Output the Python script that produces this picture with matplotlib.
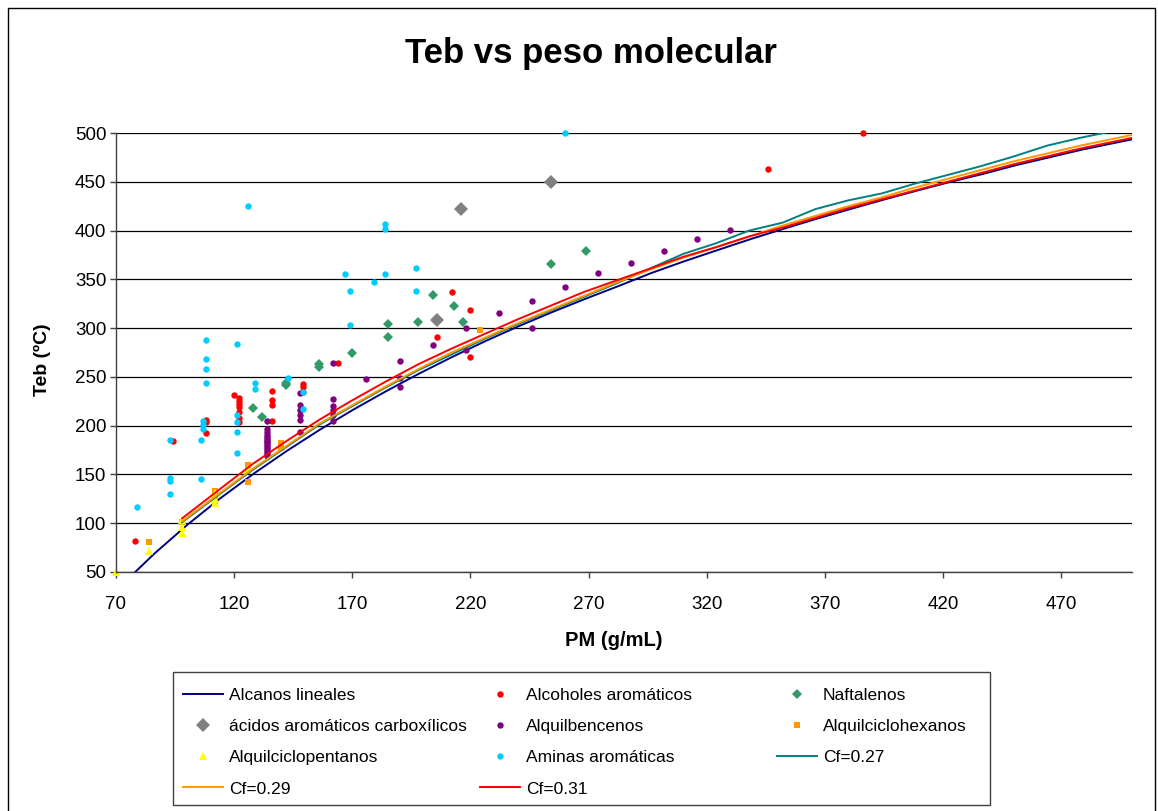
import matplotlib
matplotlib.use("Agg")
import matplotlib.pyplot as plt
from matplotlib.patches import Rectangle

plt.rcParams["font.family"] = ["Liberation Sans", "DejaVu Sans"]

W, H = 1158, 811

# n-alcanos (C5 .. C36)
ALCANOS_PM = [72.15, 86.18, 100.2, 114.23, 128.26, 142.28, 156.31, 170.34,
              184.37, 198.39, 212.42, 226.45, 240.47, 254.5, 268.53, 282.55,
              296.58, 310.61, 324.63, 338.66, 352.69, 366.71, 380.74, 394.77,
              408.8, 422.82, 436.85, 450.88, 464.9, 478.93, 492.96, 506.98]
ALCANOS_TEB = [36.1, 68.7, 98.4, 125.7, 150.8, 174.1, 195.9, 216.3,
               235.4, 253.5, 270.6, 286.8, 302.0, 316.3, 329.9, 343.0,
               356.5, 368.6, 380.0, 391.3, 401.9, 412.2, 422.0, 431.6,
               440.8, 449.7, 458.0, 467.0, 475.0, 483.0, 490.0, 497.0]

ALCOHOLES_PM = [78, 94, 108, 108, 108, 120, 122, 122, 122, 122, 122, 122, 122,
                136, 136, 136, 136, 149, 149, 149, 164, 206, 212, 220, 220,
                346, 386]
ALCOHOLES_TEB = [82, 184, 206, 204, 192, 231, 228, 225, 222, 219, 214, 208, 204,
                 236, 226, 221, 205, 243, 240, 235, 264, 291, 337, 319, 270,
                 463, 500]

NAFTALENOS_PM = [128, 132, 142, 142, 156, 156, 170, 185, 185, 198, 204, 213,
                 217, 254, 269]
NAFTALENOS_TEB = [218, 209, 244, 242, 263, 260, 274, 304, 291, 306, 334, 323,
                  306, 366, 379]

ACIDOS_PM = [206, 216, 254]
ACIDOS_TEB = [308, 422, 450]

BENCENOS_PM = [134] * 15 + [148] * 6 + [162] * 6 + [176, 190, 190, 190, 204,
               218, 218, 232, 246, 246, 260, 274, 288, 302, 316, 330]
BENCENOS_TEB = [169, 171, 173, 175, 177, 179, 181, 183, 184, 186, 188, 190,
                193, 197, 205,
                233, 221, 216, 211, 206, 194,
                264, 227, 220, 216, 211, 205,
                248, 266, 249, 240, 283, 300, 278, 315, 328, 300, 342, 356,
                367, 379, 391, 401]

CICLOHEXANOS_PM = [84, 98, 112, 112, 112, 126, 126, 140, 140, 224]
CICLOHEXANOS_TEB = [81, 101, 133, 127, 120, 160, 142, 182, 177, 298]

CICLOPENTANOS_PM = [70, 84, 98, 98, 98, 112, 112, 112, 126]
CICLOPENTANOS_TEB = [49.5, 72, 103, 96, 90, 131, 125, 121, 156]

AMINAS_PM = [79, 93, 93, 93, 93, 108, 108, 108, 108, 107, 107, 107, 106, 106,
             121, 121, 121, 121, 121, 126, 129, 129, 143, 149, 149, 167, 169,
             169, 179, 184, 184, 184, 197, 197, 260]
AMINAS_TEB = [117, 185, 146, 143, 130, 288, 268, 258, 244, 205, 201, 197, 185,
              145, 284, 211, 204, 194, 172, 425, 244, 238, 249, 235, 217, 355,
              338, 303, 347, 407, 402, 355, 362, 338, 500]

CF_PM = [98, 114, 128, 142, 156, 170, 184, 198, 212, 226, 240, 254, 268, 282,
         296, 310, 324, 338, 352, 366, 380, 394, 408, 422, 436, 450, 464, 478,
         492, 506]
CF027_TEB = [101, 130, 155, 178, 201, 220, 239, 257, 273, 289, 304, 318, 332,
             346, 361, 376, 387, 400, 408, 422, 431, 438, 448, 457, 466, 476,
             487, 495, 502, 510]
CF029_TEB = [102, 131, 156, 179, 202, 221, 240, 258, 275, 290, 305, 319, 333,
             347, 360, 372, 383, 394, 405, 415, 425, 434, 444, 453, 462, 471,
             479, 487, 494, 501]
CF031_TEB = [105, 135, 161, 184, 206, 226, 245, 263, 279, 294, 309, 323, 337,
             349, 361, 373, 383, 394, 403, 413, 423, 432, 441, 450, 459, 468,
             476, 484, 491, 498]


fig = plt.figure(figsize=(W / 100, H / 100), dpi=100)
ax = fig.add_axes([116 / W, 1 - 572 / H, (1132 - 116) / W, (572 - 133) / H])

h_alc, = ax.plot(ALCANOS_PM, ALCANOS_TEB, "-", color="#000080", lw=1.4,
                 label="Alcanos lineales")
h_oh, = ax.plot(ALCOHOLES_PM, ALCOHOLES_TEB, "o", color="#FF0000", ms=4.6,
                mew=0, label="Alcoholes aromáticos", clip_on=False)
h_naf, = ax.plot(NAFTALENOS_PM, NAFTALENOS_TEB, "D", color="#339966", ms=4.6,
                 mew=0, label="Naftalenos", clip_on=False)
h_ac, = ax.plot(ACIDOS_PM, ACIDOS_TEB, "D", color="#808080", ms=7, mew=0,
                label="ácidos aromáticos carboxílicos", clip_on=False)
h_ben, = ax.plot(BENCENOS_PM, BENCENOS_TEB, "o", color="#800080", ms=4.6,
                 mew=0, label="Alquilbencenos", clip_on=False)
h_hex, = ax.plot(CICLOHEXANOS_PM, CICLOHEXANOS_TEB, "s", color="#FF9900",
                 ms=5, mew=0, label="Alquilciclohexanos", clip_on=False)
h_pen, = ax.plot(CICLOPENTANOS_PM, CICLOPENTANOS_TEB, "^", color="#FFFF00",
                 ms=6, mew=0, label="Alquilciclopentanos", clip_on=False)
h_am, = ax.plot(AMINAS_PM, AMINAS_TEB, "o", color="#00CCFF", ms=4.6, mew=0,
                label="Aminas aromáticas", clip_on=False)
h_27, = ax.plot(CF_PM, CF027_TEB, "-", color="#008080", lw=1.4,
                label="Cf=0.27")
h_29, = ax.plot(CF_PM, CF029_TEB, "-", color="#FF9900", lw=1.4,
                label="Cf=0.29")
h_31, = ax.plot(CF_PM, CF031_TEB, "-", color="#FF0000", lw=1.4,
                label="Cf=0.31")

ax.set_xlim(70, 500)
ax.set_ylim(50, 500)
ax.set_xticks(range(70, 471, 50))
ax.set_yticks(range(50, 501, 50))
ax.tick_params(direction="out", length=4, width=1, color="#404040",
               labelsize=13.5)
ax.tick_params(axis="x", pad=13)
ax.tick_params(axis="y", pad=3)
ax.yaxis.grid(True, color="black", lw=0.9)
ax.set_axisbelow(True)
for side in ("top", "right"):
    ax.spines[side].set_visible(False)
for side in ("left", "bottom"):
    ax.spines[side].set_color("#404040")
    ax.spines[side].set_linewidth(1)

fig.text(591 / W, 1 - 53 / H, "Teb vs peso molecular", ha="center",
         va="center", fontsize=25, fontweight="bold")
fig.text(42 / W, 1 - 360 / H, "Teb (ºC)", ha="center", va="center",
         rotation=90, fontsize=14, fontweight="bold")
fig.text(614 / W, 1 - 640 / H, "PM (g/mL)", ha="center", va="center",
         fontsize=14.5, fontweight="bold")

# legend box with three equal columns, like the spreadsheet one
fig.add_artist(Rectangle((173 / W, 1 - 805 / H), (990 - 173) / W,
                         (805 - 672) / H, transform=fig.transFigure,
                         fill=False, edgecolor="#404040", lw=1))
columns = [([h_alc, h_ac, h_pen, h_29], 183),
           ([h_oh, h_ben, h_am, h_31], 480),
           ([h_naf, h_hex, h_27], 777)]
for handles, left in columns:
    fig.legend(handles=handles, loc="upper left",
               bbox_to_anchor=(left / W, 1 - 688 / H), frameon=False,
               borderpad=0, borderaxespad=0, handlelength=2.3,
               handletextpad=0.35, labelspacing=0.92, fontsize=12.5)

# outer chart border
fig.add_artist(Rectangle((8 / W, -0.01), (1155 - 8) / W, 1.01 - 8 / H,
                         transform=fig.transFigure, fill=False,
                         edgecolor="black", lw=1))

fig.savefig("out.png", dpi=100)
